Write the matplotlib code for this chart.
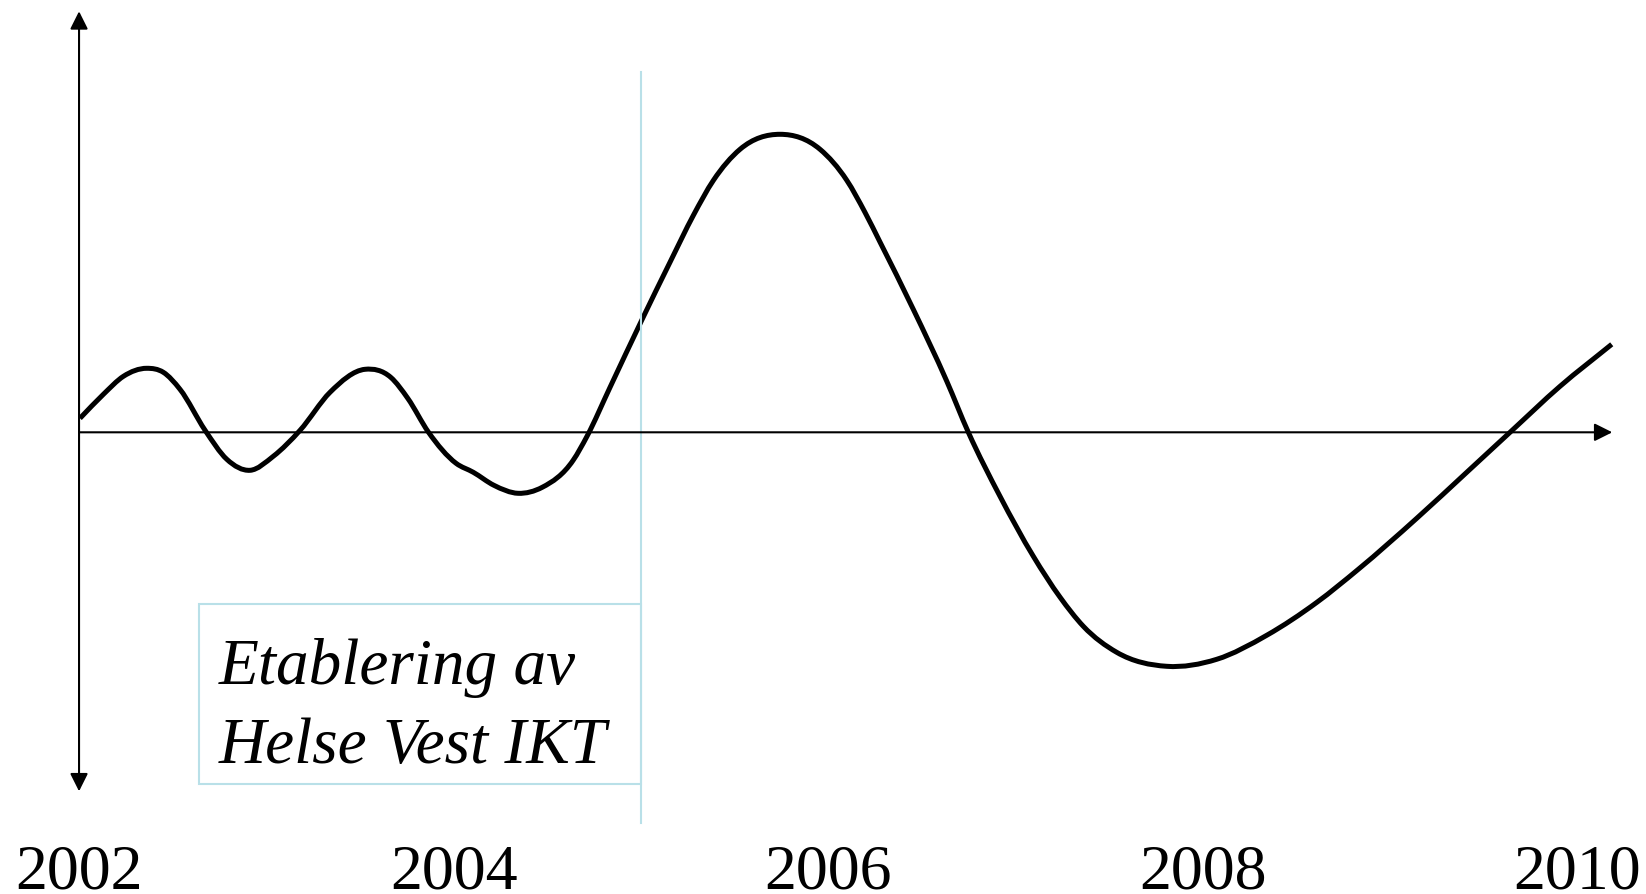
import numpy as np
import matplotlib.pyplot as plt
from matplotlib.path import Path
from matplotlib.patches import PathPatch

plt.rcParams['font.family'] = ['Liberation Serif', 'DejaVu Serif']

# curve: year vs. level (axis at 0)
years = [2002.005, 2002.130, 2002.237, 2002.361, 2002.450, 2002.539, 2002.673, 2002.789,
         2002.913, 2003.037, 2003.180, 2003.340, 2003.527, 2003.664, 2003.755, 2003.866,
         2004.013, 2004.105, 2004.215, 2004.344, 2004.473, 2004.638, 2004.712, 2004.835,
         2005.004, 2005.155, 2005.280, 2005.387, 2005.529, 2005.743, 2005.956, 2006.099,
         2006.196, 2006.277, 2006.454, 2006.633, 2006.748, 2006.917, 2007.095, 2007.238,
         2007.362, 2007.540, 2007.807, 2008.074, 2008.341, 2008.609, 2008.830, 2009.142,
         2009.409, 2009.640, 2009.907, 2010.183]
level = [14, 38, 56, 64, 60, 43, 2, -27,
         -38, -24, 2, 40, 63, 55, 34, 0,
         -31, -40, -53, -61, -55, -28, -4, 45,
         112, 170, 217, 252, 283, 298, 283, 252,
         220, 190, 123, 51, 0, -64, -124, -165,
         -194, -220, -234, -227, -203, -170, -137, -86,
         -40, 0, 46, 88]

year_ticks = [2002, 2004, 2006, 2008, 2010]
event_year = 2005
event_text = ["Etablering av", "Helse Vest IKT"]

fig = plt.figure(figsize=(16.46, 8.95), dpi=100)
ax = fig.add_axes([0, 0, 1, 1])
ax.set_xlim(2001.578, 2010.366)
ax.set_ylim(-461.7, 433.3)
ax.axis('off')

light = '#b9e0e8'

# axes with arrows
arrow = dict(arrowstyle='-|>', color='black', lw=1.5, mutation_scale=27,
             shrinkA=0, shrinkB=0)
ax.annotate('', xy=(2010.186, 0), xytext=(2002.0, 0), arrowprops=arrow)
ax.annotate('', xy=(2002.0, 421), xytext=(2002.0, 0), arrowprops=arrow)
ax.annotate('', xy=(2002.0, -359), xytext=(2002.0, 0), arrowprops=arrow)

# event marker and box
ax.plot([event_year, event_year], [-391, 360], color=light, lw=1.5)
ax.add_patch(plt.Rectangle((2002.643, -352), event_year - 2002.643, 180,
                           fill=False, edgecolor=light, lw=1.5))
ax.text(2002.747, -251, event_text[0], fontsize=47, style='italic', va='baseline')
ax.text(2002.747, -330, event_text[1], fontsize=47, style='italic', va='baseline')

# smooth curve through the read points: hermite segments drawn as bezier path
x = np.array(years)
y = np.array(level, dtype=float)
m = np.gradient(y, x)
verts = [(x[0], y[0])]
codes = [Path.MOVETO]
for i in range(len(x) - 1):
    h = (x[i + 1] - x[i]) / 3
    verts += [(x[i] + h, y[i] + m[i] * h),
              (x[i + 1] - h, y[i + 1] - m[i + 1] * h),
              (x[i + 1], y[i + 1])]
    codes += [Path.CURVE4] * 3
ax.add_patch(PathPatch(Path(verts, codes), fill=False, edgecolor='black', lw=3.6,
                       joinstyle='round', capstyle='butt'))

for yr in year_ticks:
    ax.text(yr, -455, str(yr), fontsize=46, ha='center', va='baseline')

fig.savefig('out.png', dpi=100)
